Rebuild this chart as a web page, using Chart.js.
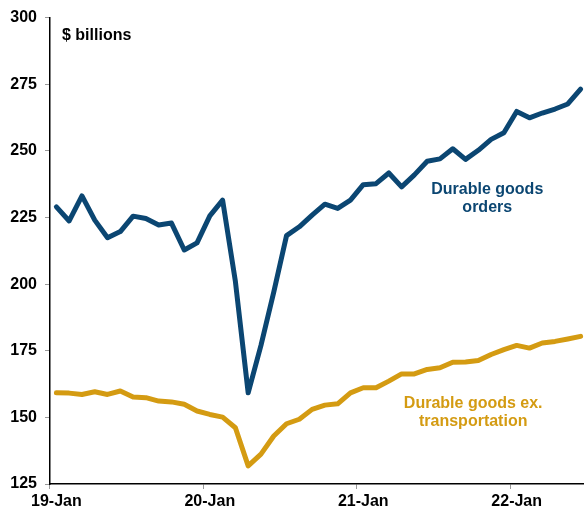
<!DOCTYPE html>
<html>
<head>
<meta charset="utf-8">
<script src="https://cdn.jsdelivr.net/npm/chart.js@4"></script>
<style>
html, body { margin:0; padding:0; overflow:hidden; background:#fff; }
#wrap { width:587px; height:514px; }
</style>
</head>
<body>
<div id="wrap"><canvas id="c" width="587" height="514"></canvas></div>
<script>
// Monthly categories, Jan 2019 - Jun 2022
const months = ['Jan','Feb','Mar','Apr','May','Jun','Jul','Aug','Sep','Oct','Nov','Dec'];
const years = ['19','20','21','22'];
const categories = [];
for (const y of years) for (const m of months) categories.push(y + '-' + m);
categories.length = 42;

const durableOrders = [
  229.0, 223.7, 233.1, 224.0, 217.4, 219.7, 225.5, 224.6, 222.2, 222.9, 212.8, 215.5,
  225.6, 231.5, 201.0, 159.2, 177.0, 197.0, 218.2, 221.5, 225.9, 230.0, 228.4, 231.5,
  237.3, 237.7, 241.7, 236.5, 241.0, 246.1, 247.0, 250.8, 246.8, 250.2, 254.3, 256.8,
  264.8, 262.4, 264.2, 265.7, 267.6, 273.2
];
const durableExTransport = [
  159.2, 159.1, 158.6, 159.6, 158.6, 159.9, 157.6, 157.4, 156.1, 155.8, 154.9, 152.4,
  151.1, 150.1, 146.1, 131.8, 136.2, 143.0, 147.6, 149.3, 153.0, 154.6, 155.1, 159.2,
  161.1, 161.1, 163.6, 166.3, 166.3, 168.0, 168.6, 170.7, 170.8, 171.3, 173.6, 175.4,
  177.0, 176.0, 177.9, 178.5, 179.4, 180.4
];
const yTicks = [125, 150, 175, 200, 225, 250, 275, 300];

const BLUE = '#0B4672';
const GOLD = '#D49B12';
const FONT = '"Liberation Sans", Arial, sans-serif';

const seriesLabels = [
  { lines: ['Durable goods', 'orders'], xIndex: 33.7, yVal: 235.3, color: BLUE },
  { lines: ['Durable goods ex.', 'transportation'], xIndex: 32.6, yVal: 155.1, color: GOLD }
];

const annotPlugin = {
  id: 'annot',
  afterDatasetsDraw(chart) {
    const { ctx, chartArea, scales } = chart;
    ctx.save();
    ctx.font = 'bold 16px ' + FONT;
    ctx.textBaseline = 'middle';
    ctx.fillStyle = '#000';
    ctx.textAlign = 'left';
    ctx.fillText('$ billions', chartArea.left + 12, chartArea.top + 18);
    ctx.textAlign = 'center';
    for (const s of seriesLabels) {
      const x = scales.x.getPixelForValue(s.xIndex);
      const y = scales.y.getPixelForValue(s.yVal);
      ctx.fillStyle = s.color;
      s.lines.forEach((t, i) => ctx.fillText(t, x, y + i * 18));
    }
    ctx.restore();
  }
};

new Chart(document.getElementById('c'), {
  type: 'line',
  data: {
    labels: categories,
    datasets: [
      { data: durableOrders, borderColor: BLUE, borderWidth: 5, pointRadius: 0, tension: 0, borderJoinStyle: 'round', borderCapStyle: 'round' },
      { data: durableExTransport, borderColor: GOLD, borderWidth: 5, pointRadius: 0, tension: 0, borderJoinStyle: 'round', borderCapStyle: 'round' }
    ]
  },
  options: {
    responsive: false,
    animation: false,
    layout: { padding: { top: 15, right: 0, left: 0, bottom: 0 } },
    plugins: { legend: { display: false }, tooltip: { enabled: false } },
    scales: {
      x: {
        type: 'category',
        offset: true,
        grid: {
          offset: true,
          drawOnChartArea: false,
          drawTicks: true,
          tickLength: 5,
          color: (ctx) => (ctx.index % 12 === 0 ? '#999' : 'rgba(0,0,0,0)')
        },
        border: { display: true, color: '#000', width: 1.5 },
        ticks: {
          autoSkip: false,
          maxRotation: 0,
          padding: 3,
          color: '#000',
          font: { family: FONT, size: 16, weight: 'bold' },
          callback: function (v, i) {
            if (i % 12 !== 0) return '';
            return categories[i];
          }
        },
        afterFit(scale) { scale.height = 30; }
      },
      y: {
        min: 125,
        max: 300,
        afterBuildTicks(scale) { scale.ticks = yTicks.map(v => ({ value: v })); },
        grid: { drawOnChartArea: false, drawTicks: true, tickLength: 5, color: '#999' },
        border: { display: true, color: '#000', width: 1.5 },
        ticks: {
          padding: 8,
          color: '#000',
          font: { family: FONT, size: 16, weight: 'bold' }
        },
        afterFit(scale) { scale.width = 50; }
      }
    }
  },
  plugins: [annotPlugin]
});
</script>
</body>
</html>
